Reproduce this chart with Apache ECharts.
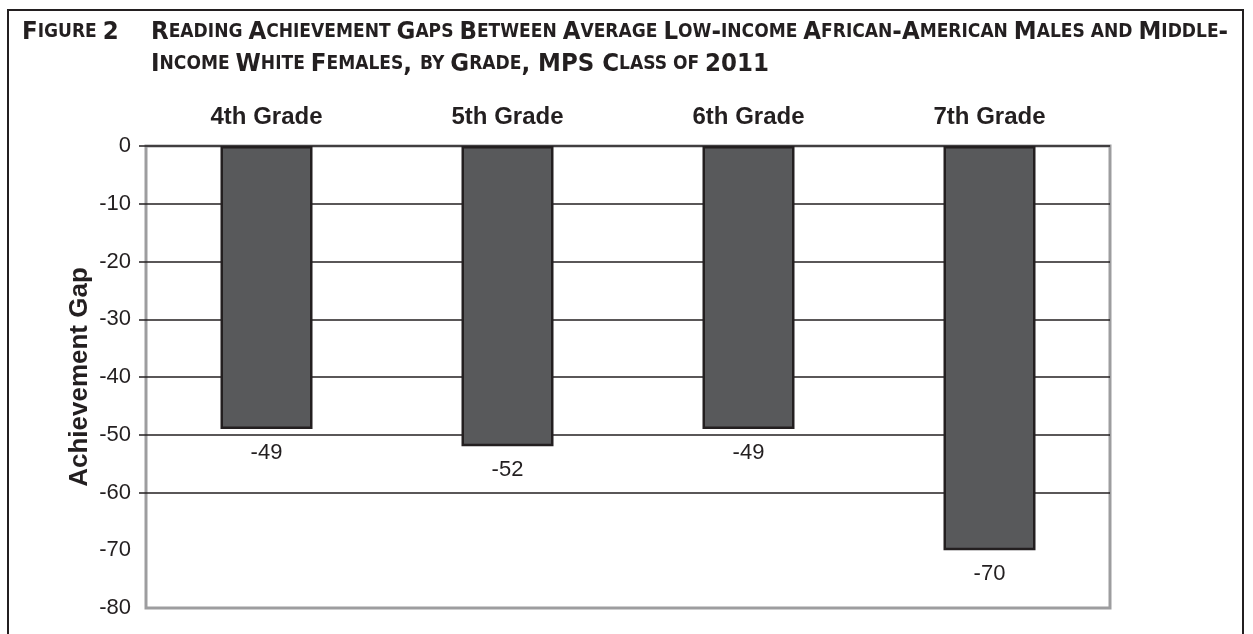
<!DOCTYPE html>
<html>
<head>
<meta charset="utf-8">
<script src="https://cdn.jsdelivr.net/npm/echarts@6/dist/echarts.min.js"></script>
<style>
  html, body { margin: 0; padding: 0; background: #fff; }
  #chart { width: 1253px; height: 634px; }
</style>
</head>
<body>
<div id="chart"></div>
<script>
// Reading achievement gaps by grade
const grades = ['4th Grade', '5th Grade', '6th Grade', '7th Grade'];
const gaps = [-49, -52, -49, -70];
const yTicks = [0, -10, -20, -30, -40, -50, -60, -70, -80];

const figureLabel = 'Figure 2';
const titleLines = [
  'Reading Achievement Gaps Between Average Low-income African-American Males and Middle-',
  'Income White Females, by Grade, MPS Class of 2011'
];

// Turn mixed-case text into small caps using two rich-text styles
function smallCaps(str) {
  let out = '';
  let cur = null, buf = '';
  for (const ch of str) {
    let kind;
    if (/[a-z]/.test(ch)) kind = 'sm';
    else if (ch === ' ' && cur) kind = cur;
    else kind = 'big';
    if (kind !== cur) {
      if (buf) out += '{' + cur + '|' + buf + '}';
      cur = kind; buf = '';
    }
    buf += kind === 'sm' ? ch.toUpperCase() : ch;
  }
  if (buf) out += '{' + cur + '|' + buf + '}';
  return out;
}

const titleFont = '"Liberation Sans Narrow", "DejaVu Sans Condensed", "Liberation Sans", sans-serif';
const titleRich = {
  big: { fontFamily: titleFont, fontWeight: 'bold', fontSize: 25.5, color: '#231f20' },
  sm:  { fontFamily: titleFont, fontWeight: 'bold', fontSize: 19, color: '#231f20' }
};

const bodyFont = 'Liberation Sans, Arial, sans-serif';

const chart = echarts.init(document.getElementById('chart'), null, { renderer: 'canvas' });

chart.setOption({
  backgroundColor: '#ffffff',
  animation: false,
  title: [
    {
      text: smallCaps(figureLabel),
      left: 17, top: 11,
      textStyle: { rich: titleRich, lineHeight: 32 }
    },
    {
      text: titleLines.map(smallCaps).join('\n'),
      left: 146, top: 11,
      textStyle: { rich: titleRich, lineHeight: 32 }
    }
  ],
  graphic: [
    {
      type: 'rect',
      shape: { x: 8, y: 10, width: 1235, height: 700 },
      style: { fill: 'none', stroke: '#231f20', lineWidth: 2 },
      silent: true
    }
  ],
  grid: {
    left: 146, top: 146, right: 143, bottom: 26,
    show: true,
    borderColor: '#9d9d9f',
    borderWidth: 3,
    backgroundColor: '#ffffff'
  },
  xAxis: {
    type: 'category',
    data: grades,
    position: 'top',
    axisLine: { show: false },
    axisTick: { show: false },
    axisLabel: {
      margin: 17,
      fontFamily: bodyFont,
      fontWeight: 'bold',
      fontSize: 24,
      color: '#231f20'
    }
  },
  yAxis: {
    type: 'value',
    min: -80, max: 0, interval: 10,
    name: 'Achievement Gap',
    nameLocation: 'middle',
    nameRotate: 90,
    nameGap: 53,
    nameMoveOverlap: false,
    nameTextStyle: {
      fontFamily: bodyFont,
      fontWeight: 'bold',
      fontSize: 26,
      color: '#231f20'
    },
    axisLine: { show: false },
    axisTick: {
      show: true,
      length: 7,
      customValues: yTicks.slice(0, 7),
      lineStyle: { color: '#231f20', width: 1.5 }
    },
    axisLabel: {
      margin: 15,
      fontFamily: bodyFont,
      fontSize: 22,
      color: '#231f20'
    },
    splitLine: {
      show: true,
      // from 0 down to -80
      lineStyle: {
        color: ['#231f20', '#231f20', '#231f20', '#231f20', '#231f20', '#231f20', '#231f20', '#f2f2f2', '#9d9d9f'],
        width: 1.5
      }
    }
  },
  series: [
    {
      type: 'bar',
      data: gaps,
      barWidth: 92,
      itemStyle: {
        color: '#58595b',
        borderColor: '#231f20',
        borderWidth: 2.5
      },
      label: {
        show: true,
        position: 'bottom',
        distance: 13,
        fontFamily: bodyFont,
        fontSize: 22,
        color: '#231f20'
      }
    }
  ]
});
</script>
</body>
</html>
